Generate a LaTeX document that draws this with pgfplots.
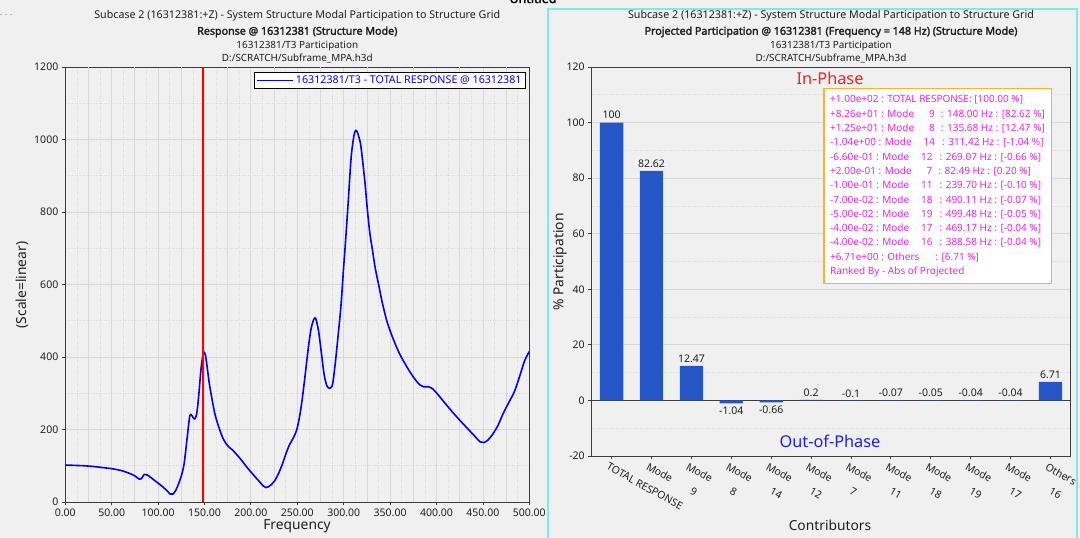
\documentclass[border=0pt]{standalone}
\usepackage{fontspec}
\setmainfont{Noto Sans}[AutoFakeBold=2.2]
\usepackage{pgfplots}
\pgfplotsset{compat=1.18}
\definecolor{bgc}{RGB}{240,240,240}
\definecolor{cyanb}{RGB}{125,232,240}
\definecolor{barblue}{RGB}{38,86,198}
\definecolor{magc}{RGB}{238,34,238}
\definecolor{orangeb}{RGB}{255,175,40}
\definecolor{gridc}{RGB}{216,216,216}
\definecolor{axc}{RGB}{60,60,60}
\definecolor{txt}{RGB}{30,30,30}
\newcommand{\tA}{\fontsize{10.7}{12}\selectfont}
\newcommand{\tB}{\fontsize{9.9}{11}\selectfont}
\newcommand{\tk}{\fontsize{10.5}{12}\selectfont}
\newcommand{\lab}{\fontsize{13.8}{16}\selectfont}
\begin{document}
\begin{tikzpicture}
\useasboundingbox (0,0) rectangle (1080pt,538pt);
\fill[bgc] (0,0) rectangle (1080pt,538pt);
\draw[cyanb, line width=2pt] (548.3pt,-5pt) -- (548.3pt,529pt) -- (1077.3pt,529pt) -- (1077.3pt,-5pt);
\node[font=\bfseries\fontsize{12.5}{14}\selectfont, anchor=base] at (533pt,535pt) {Untitled};
\node[font=\fontsize{8}{9}\selectfont, anchor=base west, text=black!60, inner sep=0] at (0pt,522pt) {. . .};
% left titles
\node[font=\tA, anchor=base, text=txt] at (297.3pt,519pt) {Subcase 2 (16312381:+Z) - System Structure Modal Participation to Structure Grid};
\node[font=\tA\bfseries, anchor=base, text=txt] at (297.3pt,503.3pt) {Response @ 16312381 (Structure Mode)};
\node[font=\tB, anchor=base, text=txt] at (297.3pt,489.8pt) {16312381/T3 Participation};
\node[font=\tB, anchor=base, text=txt] at (297.3pt,476.1pt) {D:/SCRATCH/Subframe\_MPA.h3d};
% right titles
\node[font=\tA, anchor=base, text=txt] at (831pt,519pt) {Subcase 2 (16312381:+Z) - System Structure Modal Participation to Structure Grid};
\node[font=\tA\bfseries, anchor=base, text=txt] at (831pt,503.3pt) {Projected Participation @ 16312381 (Frequency = 148 Hz) (Structure Mode)};
\node[font=\tB, anchor=base, text=txt] at (831pt,489.8pt) {16312381/T3 Participation};
\node[font=\tB, anchor=base, text=txt] at (831pt,476.1pt) {D:/SCRATCH/Subframe\_MPA.h3d};
% axis labels
\node[font=\lab, anchor=base, text=txt] at (297pt,8pt) {Frequency};
\node[font=\fontsize{13.8}{15}\selectfont, rotate=90, text=txt] at (22pt,253pt) {(Scale=linear)};
\node[font=\lab, anchor=base, text=txt] at (830pt,7pt) {Contributors};
\node[font=\fontsize{13.8}{15}\selectfont, rotate=90, text=txt] at (560pt,276pt) {\% Participation};

\begin{axis}[
  at={(65.3pt,36pt)}, anchor=south west, width=464pt, height=435pt, scale only axis,
  xmin=0, xmax=500, ymin=0, ymax=1200,
  xtick={0,50,...,500}, ytick={0,200,...,1200},
  minor xtick={12.5,37.5,...,487.5}, minor ytick={100,300,...,1100},
  extra x ticks={25,75,...,475}, extra x tick labels={},
  extra x tick style={major tick length=0pt, grid=major},
  grid=both,
  major grid style={gridc, line width=0.8pt},
  minor grid style={gridc, dotted, line width=0.7pt},
  axis line style={axc, line width=0.8pt},
  tick style={axc, line width=0.8pt},
  tick align=outside, major tick length=3.5pt, minor tick length=0pt,
  xtick pos=bottom, ytick pos=left,
  ticklabel style={font=\tk, text=txt},
  /pgf/number format/assume math mode=true,
  xticklabel style={/pgf/number format/.cd, fixed, fixed zerofill, precision=2},
  yticklabel style={/pgf/number format/1000 sep={}},
  legend style={at={(1,1)}, anchor=north east, xshift=-3.3pt, yshift=-5.4pt,
    draw=black, line width=0.8pt, fill=white, font=\fontsize{10.7}{12}\selectfont,
    text=blue, inner xsep=2pt, inner ysep=1.2pt},
  legend image code/.code={\draw[#1, line width=1.6pt] (0pt,0pt) -- (36pt,0pt);},
]
\addplot[blue, line width=1.6pt, smooth, tension=0.5] table {
x y
0 102
10 101
20 100
30 98
40 95
50 92
60 87
65 83
70 78
75 72
79 64
81 63
83 68
85 76
88 75
92 68
96 60
100 52
105 42
110 30
113 22
116 22
119 32
122 50
125 72
128 105
131 170
134 235
136 240
138 232
140 230
142 250
144 300
146 360
148 402
149.5 413
151 405
153 370
155 330
158 285
161 245
165 210
170 175
175 155
180 144
185 130
190 115
195 98
200 83
205 68
210 54
213 45
216 40
219 42
222 48
226 60
230 80
234 105
238 135
242 160
246 178
250 205
254 260
258 340
262 428
265 480
268 505
270 505
273 470
276 410
279 350
282 320
285 314
288 325
291 385
294 460
297 540
300 650
302 720
305 833
308 950
311 1010
313 1025
315 1018
318 990
320 950
323 879
325 820
328 745
331 695
334 645
338 595
342 545
347 495
353 452
360 410
368 373
375 345
382 323
386 318
391 318
396 312
402 295
410 270
420 240
430 212
440 185
447 166
451 164
455 170
460 185
466 210
472 245
478 275
484 305
490 350
495 390
500 415
};
\addlegendentry{16312381/T3 - TOTAL RESPONSE @ 16312381}
\addplot[red, line width=1.8pt, forget plot] coordinates {(148,0) (148,1200)};
\end{axis}

\begin{axis}[
  at={(591.7pt,82pt)}, anchor=south west, width=478.7pt, height=389pt, scale only axis,
  xmin=-0.5, xmax=11.5, ymin=-20, ymax=120,
  ytick={-20,20,40,60,80,100,120}, minor ytick={-10,10,30,50,70,90,110},
  extra y ticks={0},
  extra y tick style={major grid style={axc, line width=1pt}},
  ymajorgrids, yminorgrids,
  major grid style={gridc, line width=0.8pt},
  minor grid style={gridc, dotted, line width=0.7pt},
  axis line style={axc, line width=0.8pt},
  tick style={axc, line width=0.8pt},
  tick align=outside, major tick length=3.5pt, minor tick length=0pt,
  xtick pos=bottom, ytick pos=left,
  xtick={0,...,11},
  xticklabels={TOTAL RESPONSE, Mode\hspace{22pt}9, Mode\hspace{22pt}8, Mode\hspace{22pt}14, Mode\hspace{22pt}12, Mode\hspace{22pt}7, Mode\hspace{22pt}11, Mode\hspace{22pt}18, Mode\hspace{22pt}19, Mode\hspace{22pt}17, Mode\hspace{22pt}16, Others},
  x tick label style={rotate=-29, anchor=north west, xshift=-4pt, font=\fontsize{10.4}{12}\selectfont, text=txt},
  ticklabel style={font=\tk, text=txt},
  /pgf/number format/assume math mode=true,
]
\addplot[ybar, bar width=0.585, fill=barblue, draw=none] coordinates {
(0,100) (1,82.62) (2,12.47) (3,-1.04) (4,-0.66) (5,0.2) (6,-0.1) (7,-0.07) (8,-0.05) (9,-0.04) (10,-0.04) (11,6.71)};
\addplot[draw=none, nodes near coords, point meta=explicit symbolic,
  nodes near coords style={font=\tk, text=txt, anchor=south}] table[meta=lab] {
x y lab
0 100 100
1 82.62 82.62
2 12.47 12.47
5 0.2 0.2
6 -0.1 -0.1
7 -0.07 -0.07
8 -0.05 -0.05
9 -0.04 -0.04
10 -0.04 -0.04
11 6.71 6.71
};
\addplot[draw=none, nodes near coords, point meta=explicit symbolic,
  nodes near coords style={font=\tk, text=txt, anchor=north}] table[meta=lab] {
x y lab
3 -1.04 -1.04
4 -0.66 -0.66
};
\end{axis}

\node[font=\fontsize{16.3}{18}\selectfont, text={rgb,255:red,255;green,30;blue,30}] at (830pt,460pt) {In-Phase};
\node[font=\fontsize{16.3}{18}\selectfont, text={rgb,255:red,30;green,30;blue,255}] at (830pt,97pt) {Out-of-Phase};
\draw[orangeb, line width=1.2pt, fill=white] (824pt,449.7pt) rectangle (1051.7pt,254.7pt);
\node[anchor=north west, inner sep=0pt, align=left, text=magc, font=\fontsize{10}{14.3}\selectfont] at (830pt,442.5pt) {%
+1.00e+02 : TOTAL RESPONSE: [100.00 \%]\\
+8.26e+01 : Mode\hspace{15pt}9\hspace{6pt}: 148.00 Hz : [82.62 \%]\\
+1.25e+01 : Mode\hspace{15pt}8\hspace{6pt}: 135.68 Hz : [12.47 \%]\\
-1.04e+00 : Mode\hspace{12pt}14\hspace{7pt}: 311.42 Hz : [-1.04 \%]\\
-6.60e-01 : Mode\hspace{12pt}12\hspace{7pt}: 269.07 Hz : [-0.66 \%]\\
+2.00e-01 : Mode\hspace{15pt}7\hspace{6pt}: 82.49 Hz : [0.20 \%]\\
-1.00e-01 : Mode\hspace{12pt}11\hspace{7pt}: 239.70 Hz : [-0.10 \%]\\
-7.00e-02 : Mode\hspace{12pt}18\hspace{7pt}: 490.11 Hz : [-0.07 \%]\\
-5.00e-02 : Mode\hspace{12pt}19\hspace{7pt}: 499.48 Hz : [-0.05 \%]\\
-4.00e-02 : Mode\hspace{12pt}17\hspace{7pt}: 469.17 Hz : [-0.04 \%]\\
-4.00e-02 : Mode\hspace{12pt}16\hspace{7pt}: 388.58 Hz : [-0.04 \%]\\
+6.71e+00 : Others\hspace{16pt}: [6.71 \%]\\
Ranked By - Abs of Projected};
\end{tikzpicture}
\end{document}
